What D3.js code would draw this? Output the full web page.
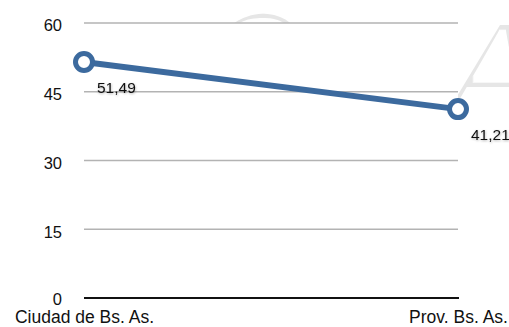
<!DOCTYPE html>
<html>
<head>
<meta charset="utf-8">
<script src="https://cdn.jsdelivr.net/npm/d3@7"></script>
<style>
  html, body { margin: 0; padding: 0; background: #fff; }
  svg { display: block; }
  text { font-family: "Liberation Sans", Arial, Helvetica, sans-serif; }
</style>
</head>
<body>
<svg id="chart" width="509" height="327"></svg>
<script>
// Data
const categories = ["Ciudad de Bs. As.", "Prov. Bs. As."];
const values = [51.49, 41.21];
const valueLabels = ["51,49", "41,21"];
const yTicks = [0, 15, 30, 45, 60];

const width = 509, height = 327;
const margin = { left: 84, right: 51, top: 23, bottom: 29 };

const svg = d3.select("#chart");
const defs = svg.append("defs");

// Thins the strokes of the background lettering
const thin = defs.append("filter").attr("id", "thin")
  .attr("x", "-10%").attr("y", "-10%").attr("width", "120%").attr("height", "120%");
thin.append("feMorphology").attr("operator", "erode").attr("radius", 3);

const x = d3.scalePoint()
  .domain(categories)
  .range([margin.left, width - margin.right]);

const y = d3.scaleLinear()
  .domain([0, 60])
  .range([height - margin.bottom, margin.top]);

// Faint background lettering
const wm = svg.append("g")
  .attr("fill", "#e6e6e6")
  .attr("filter", "url(#thin)")
  .style("font-family", "'DejaVu Sans', sans-serif")
  .style("font-style", "italic")
  .style("font-size", "140px");
wm.append("text").attr("x", 200).attr("y", 108).text("C");
wm.append("text").attr("x", 446).attr("y", 118).text("A");

// Plot area background covers the lettering
svg.append("rect")
  .attr("x", margin.left)
  .attr("y", y(60))
  .attr("width", x.range()[1] - margin.left)
  .attr("height", y(0) - y(60))
  .attr("fill", "#fff");

// Gridlines
svg.append("g")
  .selectAll("line")
  .data(yTicks.filter(d => d > 0))
  .join("line")
  .attr("x1", margin.left)
  .attr("x2", x.range()[1])
  .attr("y1", d => y(d))
  .attr("y2", d => y(d))
  .attr("stroke", "#b3b3b3")
  .attr("stroke-width", 1.3);

// Y axis labels
const yAxis = d3.axisLeft(y).tickValues(yTicks).tickSize(0).tickPadding(22);
svg.append("g")
  .attr("transform", `translate(${margin.left},0)`)
  .call(yAxis)
  .call(g => g.select(".domain").remove())
  .call(g => g.selectAll("text")
    .attr("fill", "#111")
    .attr("dy", d => d === 0 ? "0.38em" : "0.47em")
    .style("font-size", "16.5px")
    .style("font-family", "'Liberation Sans', Arial, sans-serif"));

// Baseline
svg.append("line")
  .attr("x1", margin.left)
  .attr("x2", x.range()[1] + 1)
  .attr("y1", y(0))
  .attr("y2", y(0))
  .attr("stroke", "#111")
  .attr("stroke-width", 2);

// X axis labels
const xAxis = d3.axisBottom(x).tickSize(0).tickPadding(0);
svg.append("g")
  .attr("transform", `translate(0,${y(0)})`)
  .call(xAxis)
  .call(g => g.select(".domain").remove())
  .call(g => g.selectAll("text")
    .attr("fill", "#111")
    .attr("y", 25)
    .attr("dy", 0)
    .style("font-size", "17.5px")
    .style("font-family", "'Liberation Sans', Arial, sans-serif"));

const pts = categories.map((c, i) => ({ c, v: values[i], label: valueLabels[i] }));

// Series line
svg.append("path")
  .datum(pts)
  .attr("fill", "none")
  .attr("stroke", "#3c6a9e")
  .attr("stroke-width", 6)
  .attr("stroke-linecap", "round")
  .attr("d", d3.line().x(d => x(d.c)).y(d => y(d.v)));

// Markers
svg.append("g")
  .selectAll("circle")
  .data(pts)
  .join("circle")
  .attr("cx", d => x(d.c))
  .attr("cy", d => y(d.v))
  .attr("r", 8.5)
  .attr("fill", "#fff")
  .attr("stroke", "#3c6a9e")
  .attr("stroke-width", 5);

// Value labels with a soft shadow
const f = defs.append("filter").attr("id", "shadow")
  .attr("x", "-20%").attr("y", "-40%").attr("width", "140%").attr("height", "180%");
f.append("feDropShadow")
  .attr("dx", 0.5).attr("dy", 1).attr("stdDeviation", 1.2)
  .attr("flood-color", "#000").attr("flood-opacity", 0.3);

svg.append("g")
  .selectAll("text")
  .data(pts)
  .join("text")
  .attr("x", d => x(d.c) + 13)
  .attr("y", d => y(d.v) + 31)
  .attr("fill", "#111")
  .attr("filter", "url(#shadow)")
  .style("font-size", "15.5px")
  .text(d => d.label);
</script>
</body>
</html>
